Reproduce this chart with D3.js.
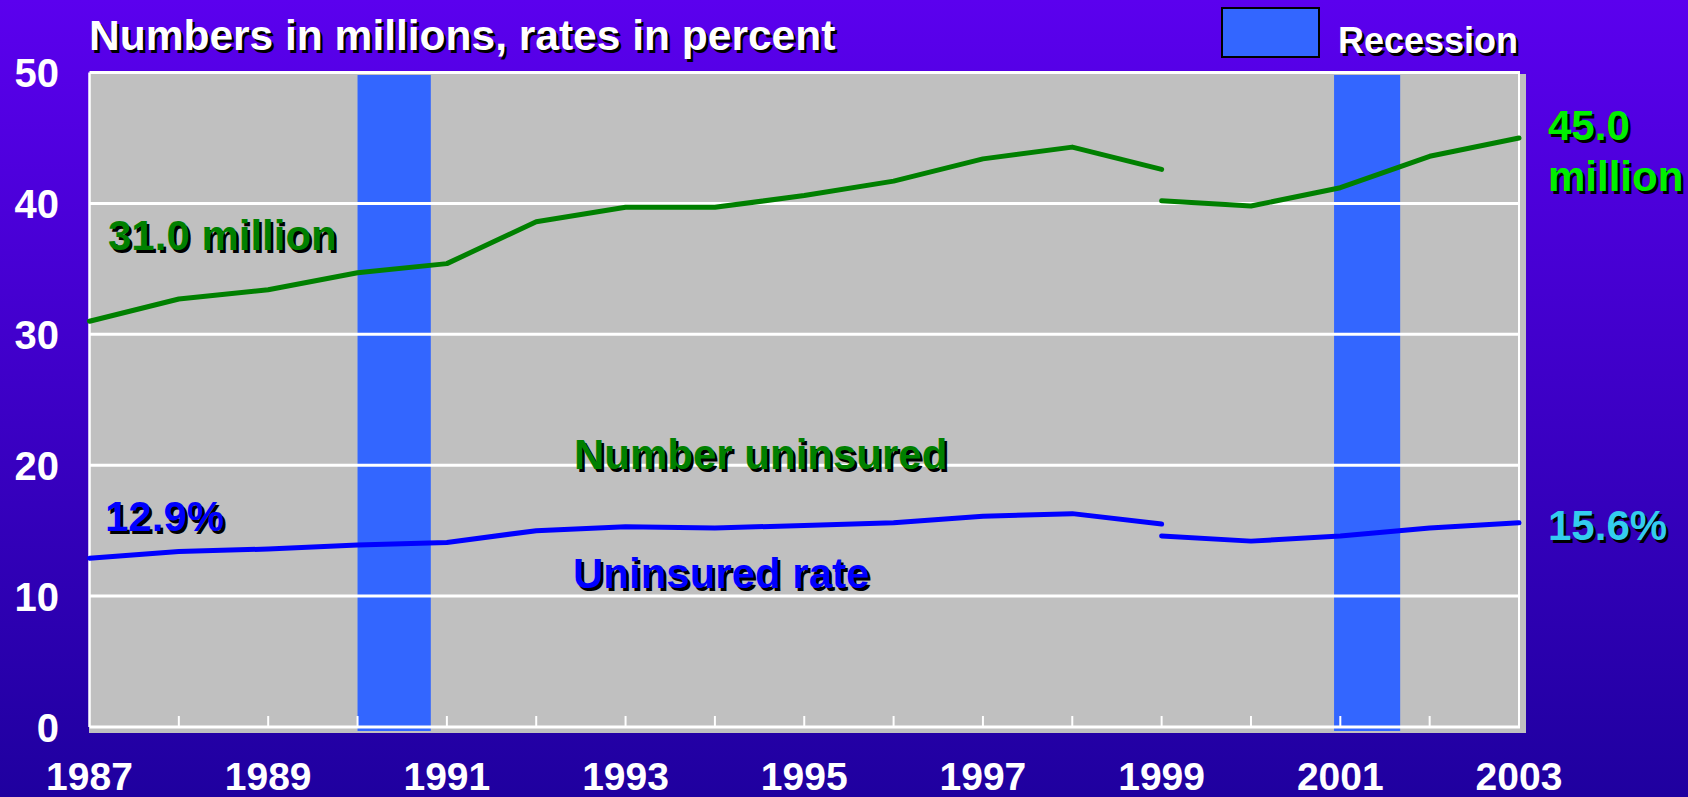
<!DOCTYPE html>
<html>
<head>
<meta charset="utf-8">
<script src="https://cdn.jsdelivr.net/npm/d3@7"></script>
<style>
  html, body { margin: 0; padding: 0; overflow: hidden; }
  svg { display: block; font-family: Arial, "Liberation Sans", sans-serif; font-weight: bold; }
</style>
</head>
<body>
<div id="container"></div>
<script>
// DATA
const years = d3.range(1987, 2004)
// number uninsured (millions); 1999 has two estimates -> two segments
const numberOld = [31.0, 32.7, 33.4, 34.7, 35.4, 38.6, 39.7, 39.7, 40.6, 41.7, 43.4, 44.3, 42.6]
const numberNew = [40.2, 39.8, 41.2, 43.6, 45.0]
// uninsured rate (percent)
const rateOld = [12.9, 13.4, 13.6, 13.9, 14.1, 15.0, 15.3, 15.2, 15.4, 15.6, 16.1, 16.3, 15.5]
const rateNew = [14.6, 14.2, 14.6, 15.2, 15.6]
const recessions = [[1990.0, 1990.82], [2000.93, 2001.67]]
const yTicks = [0, 10, 20, 30, 40, 50]
const xLabels = [1987, 1989, 1991, 1993, 1995, 1997, 1999, 2001, 2003]

//BOX
const w = 1688
const h = 797
const plotL = 89.5, plotR = 1519, plotT = 72.5, plotB = 727

const xscale = d3.scaleLinear().domain([1987, 2003]).range([plotL, plotR])
const yscale = d3.scaleLinear().domain([0, 50]).range([plotB, plotT])

const svg = d3.select('#container')
    .append('svg')
    .attr('width', w)
    .attr('height', h)

//BACKGROUND
const grad = svg.append('defs').append('linearGradient')
    .attr('id', 'bg').attr('x1', 0).attr('y1', 0).attr('x2', 0).attr('y2', 1)
grad.append('stop').attr('offset', '0%').attr('stop-color', '#5B00EE')
grad.append('stop').attr('offset', '100%').attr('stop-color', '#1F009F')

svg.append('rect').attr('width', w).attr('height', h).attr('fill', 'url(#bg)')

//PLOT AREA
svg.append('rect')
    .attr('x', plotL - 0.5)
    .attr('y', plotT + 1.5)
    .attr('width', plotR - plotL + 7.5)
    .attr('height', plotB - plotT + 4.5)
    .attr('fill', '#C0C0C0')

//RECESSION BARS
svg.append('g')
    .selectAll('rect')
    .data(recessions)
    .enter()
    .append('rect')
    .attr('x', d => xscale(d[0]))
    .attr('width', d => xscale(d[1]) - xscale(d[0]))
    .attr('y', plotT + 2.5)
    .attr('height', plotB - plotT + 1.5)
    .attr('fill', '#3366FF')

//GRIDLINES + FRAME
svg.append('g')
    .selectAll('line')
    .data(yTicks)
    .enter()
    .append('line')
    .attr('x1', plotL)
    .attr('x2', plotR + 1)
    .attr('y1', d => yscale(d))
    .attr('y2', d => yscale(d))
    .attr('stroke', '#fff')
    .attr('stroke-width', 3)

svg.append('line')
    .attr('x1', plotL).attr('x2', plotL)
    .attr('y1', plotT).attr('y2', plotB)
    .attr('stroke', '#fff').attr('stroke-width', 2.5)

svg.append('line')
    .attr('x1', plotR).attr('x2', plotR)
    .attr('y1', plotT).attr('y2', plotB)
    .attr('stroke', '#fff').attr('stroke-width', 2)

//X TICKS (inside, upward)
svg.append('g')
    .selectAll('line')
    .data(years.slice(1, -1))
    .enter()
    .append('line')
    .attr('x1', d => xscale(d))
    .attr('x2', d => xscale(d))
    .attr('y1', plotB)
    .attr('y2', plotB - 11)
    .attr('stroke', '#fff')
    .attr('stroke-width', 2)

//AXIS LABELS
svg.append('g')
    .selectAll('text')
    .data(yTicks)
    .enter()
    .append('text')
    .attr('x', 59)
    .attr('y', d => yscale(d) + 14.5)
    .attr('text-anchor', 'end')
    .attr('font-size', 40)
    .attr('fill', '#fff')
    .text(d => d)

svg.append('g')
    .selectAll('text')
    .data(xLabels)
    .enter()
    .append('text')
    .attr('x', d => xscale(d))
    .attr('y', 790)
    .attr('text-anchor', 'middle')
    .attr('font-size', 39)
    .attr('fill', '#fff')
    .text(d => d)

//LINES
const line = d3.line()
    .x(d => xscale(d[0]))
    .y(d => yscale(d[1]))

const segments = [
    { data: numberOld.map((v, i) => [years[i], v]), color: '#008000' },
    { data: numberNew.map((v, i) => [1999 + i, v]), color: '#008000' },
    { data: rateOld.map((v, i) => [years[i], v]), color: '#0000FF' },
    { data: rateNew.map((v, i) => [1999 + i, v]), color: '#0000FF' }
]

svg.append('g')
    .selectAll('path')
    .data(segments)
    .enter()
    .append('path')
    .attr('d', d => line(d.data))
    .attr('fill', 'none')
    .attr('stroke', d => d.color)
    .attr('stroke-width', 5)
    .attr('stroke-linecap', 'round')
    .attr('stroke-linejoin', 'round')

//LEGEND
svg.append('rect')
    .attr('x', 1222).attr('y', 8)
    .attr('width', 97).attr('height', 49)
    .attr('fill', '#3366FF')
    .attr('stroke', '#000')
    .attr('stroke-width', 2)

//TEXTS WITH SHADOW
function shadowText(x, y, str, size, color) {
    const g = svg.append('g').attr('font-size', size)
    g.append('text').attr('x', x + 2.5).attr('y', y + 2.5).attr('fill', '#000').text(str)
    g.append('text').attr('x', x).attr('y', y).attr('fill', color).text(str)
}

shadowText(89, 50, 'Numbers in millions, rates in percent', 42.5, '#fff')
shadowText(1338, 53, 'Recession', 36, '#fff')
shadowText(108, 250, '31.0 million', 42, '#008000')
shadowText(574, 469, 'Number uninsured', 42, '#008000')
shadowText(105, 531, '12.9%', 42, '#0000FF')
shadowText(573, 588, 'Uninsured rate', 42, '#0000FF')
shadowText(1548, 140, '45.0', 42, '#00F000')
shadowText(1548, 191, 'million', 42, '#00F000')
shadowText(1548, 540, '15.6%', 42, '#33CCEE')
</script>
</body>
</html>
